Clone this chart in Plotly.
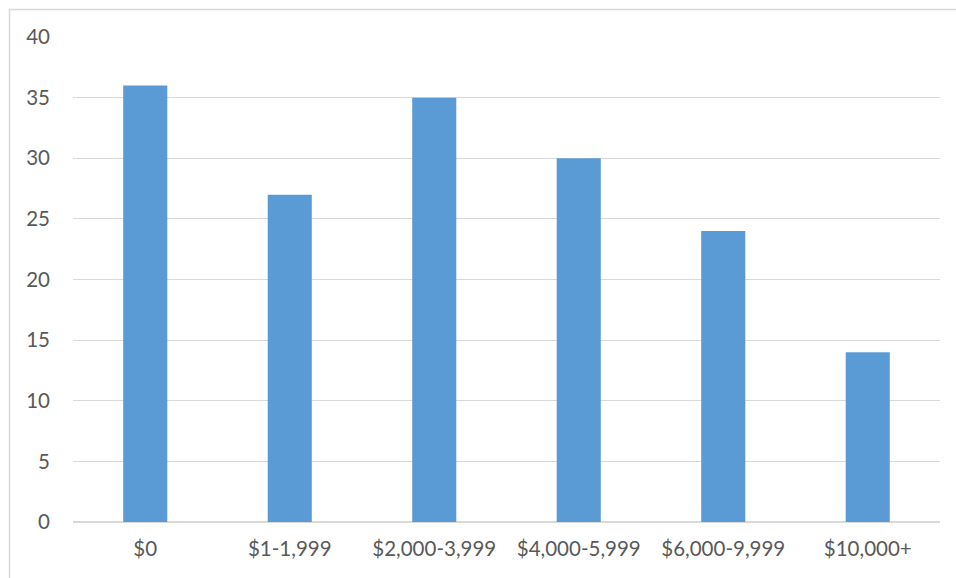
import plotly.graph_objects as go

categories = ["$0", "$1-1,999", "$2,000-3,999", "$4,000-5,999", "$6,000-9,999", "$10,000+"]
values = [36, 27, 35, 30, 24, 14]
y_ticks = [0, 5, 10, 15, 20, 25, 30, 35, 40]

W, H = 956, 578
ML, MR, MT, MB = 73, 16, 37, 56
pw = W - ML - MR
ph = H - MT - MB

fig = go.Figure(go.Bar(x=categories, y=values, marker=dict(color="#5B9BD5", line=dict(width=0))))

def px_to_paper_x(px):
    return (px - ML) / pw

def px_to_paper_y(py):
    return (H - MB - py) / ph

fig.update_layout(
    width=W, height=H,
    margin=dict(l=ML, r=MR, t=MT, b=MB),
    plot_bgcolor="white", paper_bgcolor="white",
    bargap=0.695,
    showlegend=False,
    font=dict(family="Lato, 'Open Sans', sans-serif", size=20.5, color="#595959"),
    xaxis=dict(showgrid=False, showline=False, ticks="", ticklabelstandoff=12,
               tickfont=dict(size=20.5, color="#595959")),
    yaxis=dict(range=[0, 40], tickvals=y_ticks, showgrid=True, gridcolor="#d9d9d9",
               gridwidth=1, zeroline=True, zerolinecolor="#d9d9d9", zerolinewidth=2,
               showline=False, ticks="", ticklabelstandoff=22,
               tickfont=dict(size=20.5, color="#595959")),
    shapes=[dict(type="rect", xref="paper", yref="paper",
                 x0=px_to_paper_x(9.5), x1=px_to_paper_x(W + 20),
                 y0=px_to_paper_y(H + 20), y1=px_to_paper_y(9.5),
                 line=dict(color="#d9d9d9", width=1.5), fillcolor="rgba(0,0,0,0)",
                 layer="below")],
)

fig.write_html("out.html")
